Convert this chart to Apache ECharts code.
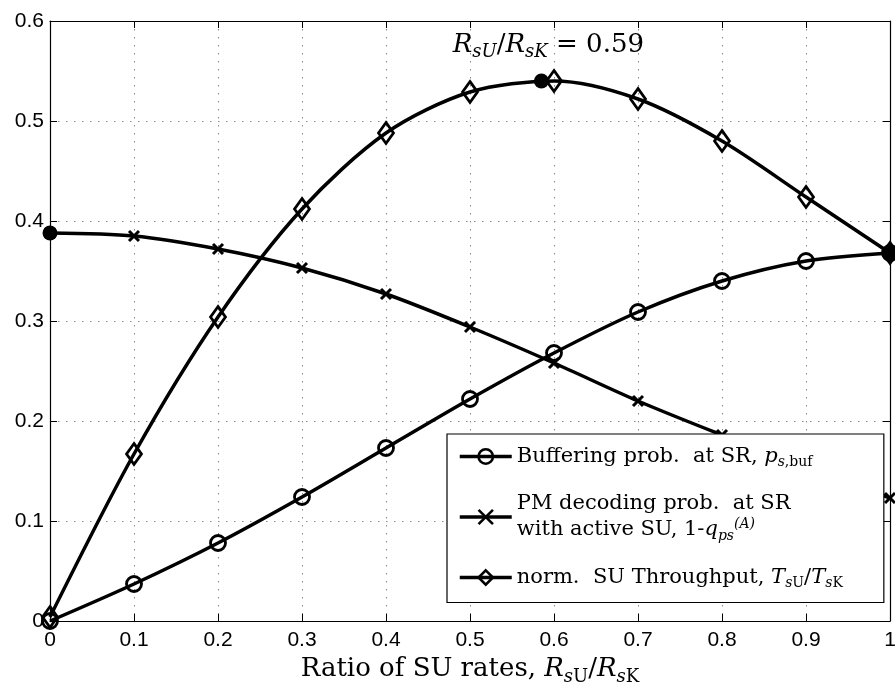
<!DOCTYPE html>
<html>
<head>
<meta charset="utf-8">
<script src="https://cdn.jsdelivr.net/npm/echarts@6/dist/echarts.min.js"></script>
<style>
html, body { margin: 0; padding: 0; background: #fff; }
#chart { width: 895px; height: 684px; }
</style>
</head>
<body>
<div id="chart"></div>
<script>
// ratio of SU rates R_sU / R_sK
const rateRatio = [0, 0.1, 0.2, 0.3, 0.4, 0.5, 0.6, 0.7, 0.8, 0.9, 1];
// buffering prob. at SR
const bufferingProb = [0, 0.037, 0.078, 0.124, 0.173, 0.222, 0.268, 0.309, 0.340, 0.360, 0.368];
// PM decoding prob. at SR with active SU
const pmDecodingProb = [0.388, 0.385, 0.372, 0.353, 0.327, 0.294, 0.258, 0.220, 0.186, 0.154, 0.123];
// normalised SU throughput
const suThroughput = [0.004, 0.167, 0.304, 0.412, 0.488, 0.529, 0.540, 0.522, 0.480, 0.424, 0.368];
// filled dots
const markedX = [0, 0.585, 1];
const markedY = [0.388, 0.540, 0.368];

const serif = 'DejaVu Serif';
const sans = 'Liberation Sans';

function makeRich(size) {
  const small = Math.round(size * 0.68);
  const lh = Math.round(size * 1.25);
  const sl = Math.round(small * 0.85);
  return {
    r: { fontFamily: serif, fontSize: size, lineHeight: lh, color: '#000' },
    i: { fontFamily: serif, fontSize: size, lineHeight: lh, fontStyle: 'italic', color: '#000' },
    sub: { fontFamily: serif, fontSize: small, lineHeight: sl, verticalAlign: 'bottom', color: '#000' },
    subi: { fontFamily: serif, fontSize: small, lineHeight: sl, verticalAlign: 'bottom', fontStyle: 'italic', color: '#000' },
    sup: { fontFamily: serif, fontSize: small, lineHeight: sl, verticalAlign: 'top', color: '#000' },
    supi: { fontFamily: serif, fontSize: small, lineHeight: sl, verticalAlign: 'top', fontStyle: 'italic', color: '#000' }
  };
}

const legendText = {
  buf: '{r|Buffering prob.  at SR, }{i|p}{subi|s}{sub|,buf}',
  pm: '{r|PM decoding prob.  at SR}\n{r|with active SU, 1-}{i|q}{subi|ps}{supi|(A)}',
  thr: '{r|norm.  SU Throughput, }{i|T}{subi|s}{sub|U}{r|/}{i|T}{subi|s}{sub|K}'
};

const toPairs = (xs, ys) => xs.map((x, k) => [x, ys[k]]);

let options = {
  animation: false,
  grid: {
    left: 50,
    right: 5,
    top: 21,
    bottom: 63,
    outerBoundsMode: 'none'
  },
  legend: {
    orient: 'vertical',
    left: 447,
    top: 434,
    z: 20,
    padding: [12, 41, 12, 11],
    itemWidth: 52,
    itemHeight: 18,
    itemGap: 24,
    backgroundColor: '#fff',
    borderColor: '#000',
    borderWidth: 1.2,
    borderRadius: 0,
    lineStyle: { color: '#000', width: 3.5 },
    itemStyle: { borderColor: '#000', borderWidth: 2.6 },
    data: ['buf', 'pm', 'thr'],
    formatter: name => legendText[name],
    textStyle: { rich: makeRich(21) }
  },
  xAxis: [
    {
      type: 'value',
      min: 0,
      max: 1,
      interval: 0.1,
      name: '{r|Ratio of SU rates, }{i|R}{subi|s}{sub|U}{r|/}{i|R}{subi|s}{sub|K}',
      nameLocation: 'middle',
      nameGap: 32,
      nameTextStyle: { rich: makeRich(26) },
      axisLine: { onZero: false, lineStyle: { color: '#000', width: 1.2 } },
      axisTick: { inside: true, length: 7, lineStyle: { color: '#000' } },
      axisLabel: { fontFamily: sans, fontSize: 21, color: '#000', margin: 9 },
      splitLine: { show: true, lineStyle: { color: '#888', type: [1.5, 6.5], width: 1 } }
    },
    {
      type: 'value',
      position: 'top',
      min: 0,
      max: 1,
      interval: 0.1,
      axisLine: { onZero: false, lineStyle: { color: '#000', width: 1.2 } },
      axisTick: { inside: true, length: 7, lineStyle: { color: '#000' } },
      axisLabel: { show: false },
      splitLine: { show: false }
    }
  ],
  yAxis: [
    {
      type: 'value',
      min: 0,
      max: 0.6,
      interval: 0.1,
      axisLine: { show: true, onZero: false, lineStyle: { color: '#000', width: 1.2 } },
      axisTick: { show: true, inside: true, length: 7, lineStyle: { color: '#000' } },
      axisLabel: { fontFamily: sans, fontSize: 21, color: '#000', margin: 6 },
      splitLine: { show: true, lineStyle: { color: '#888', type: [1.5, 6.5], width: 1 } }
    },
    {
      type: 'value',
      position: 'right',
      min: 0,
      max: 0.6,
      interval: 0.1,
      axisLine: { show: true, onZero: false, lineStyle: { color: '#000', width: 1.2 } },
      axisTick: { show: true, inside: true, length: 7, lineStyle: { color: '#000' } },
      axisLabel: { show: false },
      splitLine: { show: false }
    }
  ],
  series: [
    {
      name: 'buf',
      type: 'line',
      data: toPairs(rateRatio, bufferingProb),
      smooth: 0.3,
      symbol: 'circle',
      symbolSize: 15,
      lineStyle: { color: '#000', width: 3.5 },
      itemStyle: { color: 'rgba(0,0,0,0)', borderColor: '#000', borderWidth: 2.8 },
      z: 2
    },
    {
      name: 'pm',
      type: 'line',
      data: toPairs(rateRatio, pmDecodingProb),
      smooth: 0.3,
      symbol: 'path://M0,0L10,10M10,0L0,10',
      symbolSize: 10,
      lineStyle: { color: '#000', width: 3.5 },
      itemStyle: { color: 'rgba(0,0,0,0)', borderColor: '#000', borderWidth: 3 },
      z: 2
    },
    {
      name: 'thr',
      type: 'line',
      data: toPairs(rateRatio, suThroughput),
      smooth: 0.3,
      symbol: 'diamond',
      symbolSize: [15, 21],
      lineStyle: { color: '#000', width: 3.5 },
      itemStyle: { color: 'rgba(0,0,0,0)', borderColor: '#000', borderWidth: 2.8 },
      z: 2
    },
    {
      name: 'opt',
      type: 'scatter',
      clip: false,
      symbol: 'circle',
      symbolSize: 15,
      itemStyle: { color: '#000', opacity: 1 },
      z: 3,
      data: toPairs(markedX, markedY).map((p, k) => k === 1 ? {
        value: p,
        label: {
          show: true,
          position: 'top',
          distance: 12,
          offset: [7, 0],
          formatter: '{i|R}{subi|sU}{r|/}{i|R}{subi|sK}{r| = 0.59}',
          rich: makeRich(26)
        }
      } : p)
    }
  ]
};

let myChart = echarts.init(document.getElementById('chart'));
myChart.setOption(options);
</script>
</body>
</html>
